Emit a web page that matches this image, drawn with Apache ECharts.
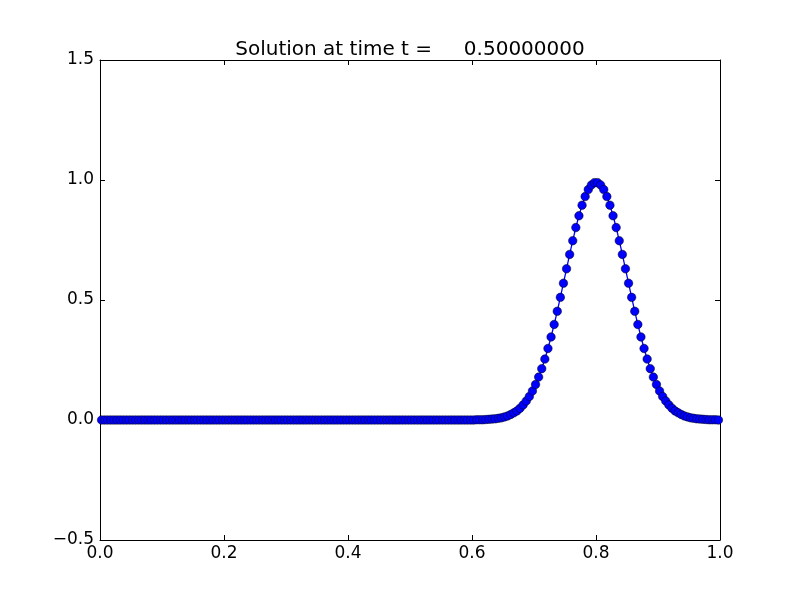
<!DOCTYPE html>
<html>
<head>
<meta charset="utf-8">
<script src="https://cdn.jsdelivr.net/npm/echarts@6/dist/echarts.min.js"></script>
<style>html,body{margin:0;padding:0;background:#fff}#c{width:800px;height:600px}</style>
</head>
<body>
<div id="c"></div>
<script>
const titleText = 'Solution at time t =     0.50000000';
const xTicks = [0, 0.2, 0.4, 0.6, 0.8, 1.0];
const yTicks = [-0.5, 0, 0.5, 1.0, 1.5];
const nCells = 200;
// q values at cell centres (x = 0.0025 ... 0.9975)
const qZeros = [
  0,0,0,0,0,0,0,0,0,0,0,0,0,0,0,0,0,0,0,0,
  0,0,0,0,0,0,0,0,0,0,0,0,0,0,0,0,0,0,0,0,
  0,0,0,0,0,0,0,0,0,0,0,0,0,0,0,0,0,0,0,0,
  0,0,0,0,0,0,0,0,0,0,0,0,0,0,0,0,0,0,0,0,
  0,0,0,0,0,0,0,0,0,0,0,0,0,0,0,0,0,0,0,0,
  0,0,0,0,0,0,0,0,0,0,0,0,0,0,0,0,0,0,0,0
];
const qRise = [
  0, 0.001, 0.001, 0.001, 0.002, 0.003, 0.004, 0.005, 0.007, 0.009,
  0.013, 0.017, 0.023, 0.030, 0.038, 0.049, 0.063, 0.079, 0.098, 0.121,
  0.148, 0.179, 0.214, 0.254, 0.298, 0.346, 0.398, 0.453, 0.511, 0.570,
  0.630, 0.690, 0.747, 0.802, 0.851, 0.895, 0.931, 0.960, 0.979, 0.989
];
const qFall = [
  0.989, 0.979, 0.960, 0.931, 0.895, 0.851, 0.802, 0.747, 0.690, 0.630,
  0.570, 0.511, 0.453, 0.398, 0.346, 0.298, 0.254, 0.214, 0.179, 0.148,
  0.121, 0.098, 0.079, 0.063, 0.049, 0.038, 0.030, 0.023, 0.017, 0.013,
  0.009, 0.007, 0.005, 0.004, 0.003, 0.002, 0.001, 0.001, 0.001, 0
];
const qValues = qZeros.concat(qRise, qFall);
const xCenters = qValues.map((_, i) => (i + 0.5) / nCells);
const seriesData = qValues.map((q, i) => [xCenters[i], q]);

const font = 'DejaVu Sans';
const fmt = v => {
  const s = Math.abs(v).toFixed(1);
  return v < 0 ? '\u2212' + s : s;
};
const axisLine = {show: true, onZero: false, lineStyle: {color: '#000', width: 1}};
const tickStyle = {show: true, inside: true, length: 5, lineStyle: {color: '#000', width: 1}};

const chart = echarts.init(document.getElementById('c'), null, {renderer: 'canvas'});
chart.setOption({
  animation: false,
  backgroundColor: '#fff',
  title: {
    text: titleText,
    left: 405, top: 35, textAlign: 'center',
    textStyle: {fontFamily: font, fontSize: 20, fontWeight: 'normal', color: '#000'}
  },
  grid: {left: 100, right: 80, top: 60, bottom: 60, containLabel: false},
  xAxis: [{
    type: 'value', min: xTicks[0], max: xTicks[xTicks.length - 1], interval: 0.2,
    position: 'bottom',
    axisLine: axisLine, axisTick: tickStyle, splitLine: {show: false},
    axisLabel: {formatter: fmt, fontFamily: font, fontSize: 17, color: '#000', margin: 5}
  }, {
    type: 'value', min: xTicks[0], max: xTicks[xTicks.length - 1], interval: 0.2,
    position: 'top',
    axisLine: axisLine, axisTick: tickStyle, splitLine: {show: false},
    axisLabel: {show: false}
  }],
  yAxis: [{
    type: 'value', min: yTicks[0], max: yTicks[yTicks.length - 1], interval: 0.5,
    position: 'left',
    axisLine: axisLine, axisTick: tickStyle, splitLine: {show: false},
    axisLabel: {formatter: fmt, fontFamily: font, fontSize: 17, color: '#000', margin: 6}
  }, {
    type: 'value', min: yTicks[0], max: yTicks[yTicks.length - 1], interval: 0.5,
    position: 'right',
    axisLine: axisLine, axisTick: tickStyle, splitLine: {show: false},
    axisLabel: {show: false}
  }],
  series: [{
    type: 'line',
    data: seriesData,
    xAxisIndex: 0, yAxisIndex: 0,
    symbol: 'circle', symbolSize: 8.5, showSymbol: true, showAllSymbol: true,
    clip: true,
    lineStyle: {color: '#0000ff', width: 1.3},
    itemStyle: {color: '#0000ff', borderColor: '#000', borderWidth: 0.5},
    z: 3
  }]
});
</script>
</body>
</html>
